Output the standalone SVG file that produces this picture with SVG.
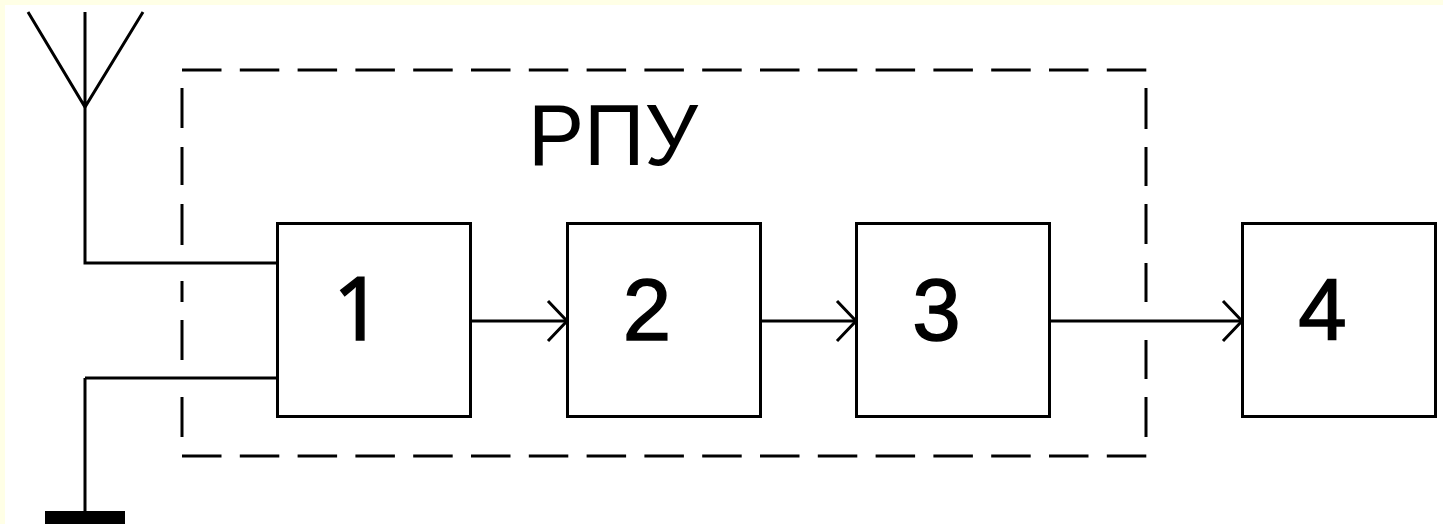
<svg xmlns="http://www.w3.org/2000/svg" width="1443" height="524" viewBox="0 0 1443 524">
<style>
.l{fill:none;stroke:#000;stroke-width:3}
.d{fill:none;stroke:#000;stroke-width:3}
.h{stroke-dasharray:39.5 18.3}
.t{font-family:"Liberation Sans",Arial,sans-serif;fill:#000}
.n{font-size:87px;text-anchor:middle;stroke:#000;stroke-width:1.5}
.r{font-family:"Noto Sans","Liberation Sans",sans-serif}
rect.b{fill:#fff;stroke:#000;stroke-width:3}
</style>
<defs><marker id="a" markerUnits="userSpaceOnUse" markerWidth="24" markerHeight="44" refX="21" refY="22" orient="auto"><path d="M2 2L21 22L2 42" fill="none" stroke="#000" stroke-width="3"/></marker></defs>
<rect width="1443" height="524" fill="#ffffe6"/>
<rect x="5" y="5" width="1438" height="519" fill="#fff"/>
<g id="dashed-box">
<path class="d h" d="M182 70H1147M182 456H1147"/>
<path class="d" d="M182 88V128M182 147V185M182 204V245M182 281V302M182 320V360M182 397V437"/>
<path class="d" d="M1146 88V129M1146 147V186M1146 204V244M1146 263V302M1146 340V379M1146 397V437"/>
</g>
<g id="connectors">
<path class="l" d="M85 107V263H277M85 378H277M85 378V512"/>
<path class="l" d="M472 321H567" marker-end="url(#a)"/>
<path class="l" d="M761 321H856" marker-end="url(#a)"/>
<path class="l" d="M1050 321H1242" marker-end="url(#a)"/>
</g>
<g id="antenna"><path class="l" d="M28 12L85 107L143 12M85 12V107"/></g>
<g id="ground"><rect x="45" y="511" width="80" height="13" fill="#000"/></g>
<g id="node1"><rect class="b" x="277.500" y="223.500" width="193" height="193"/><text class="t n r" x="358" y="340" font-size="86">1</text></g>
<g id="node2"><rect class="b" x="567.500" y="223.500" width="193" height="193"/><text class="t n" x="647" y="340">2</text></g>
<g id="node3"><rect class="b" x="856.500" y="223.500" width="193" height="193"/><text class="t n" x="936.500" y="340">3</text></g>
<g id="node4"><rect class="b" x="1242.500" y="223.500" width="193" height="193"/><text class="t n" x="1322.500" y="340">4</text></g>
<text class="t" x="528" y="165" font-size="88" textLength="170" lengthAdjust="spacingAndGlyphs">РПУ</text>
</svg>
